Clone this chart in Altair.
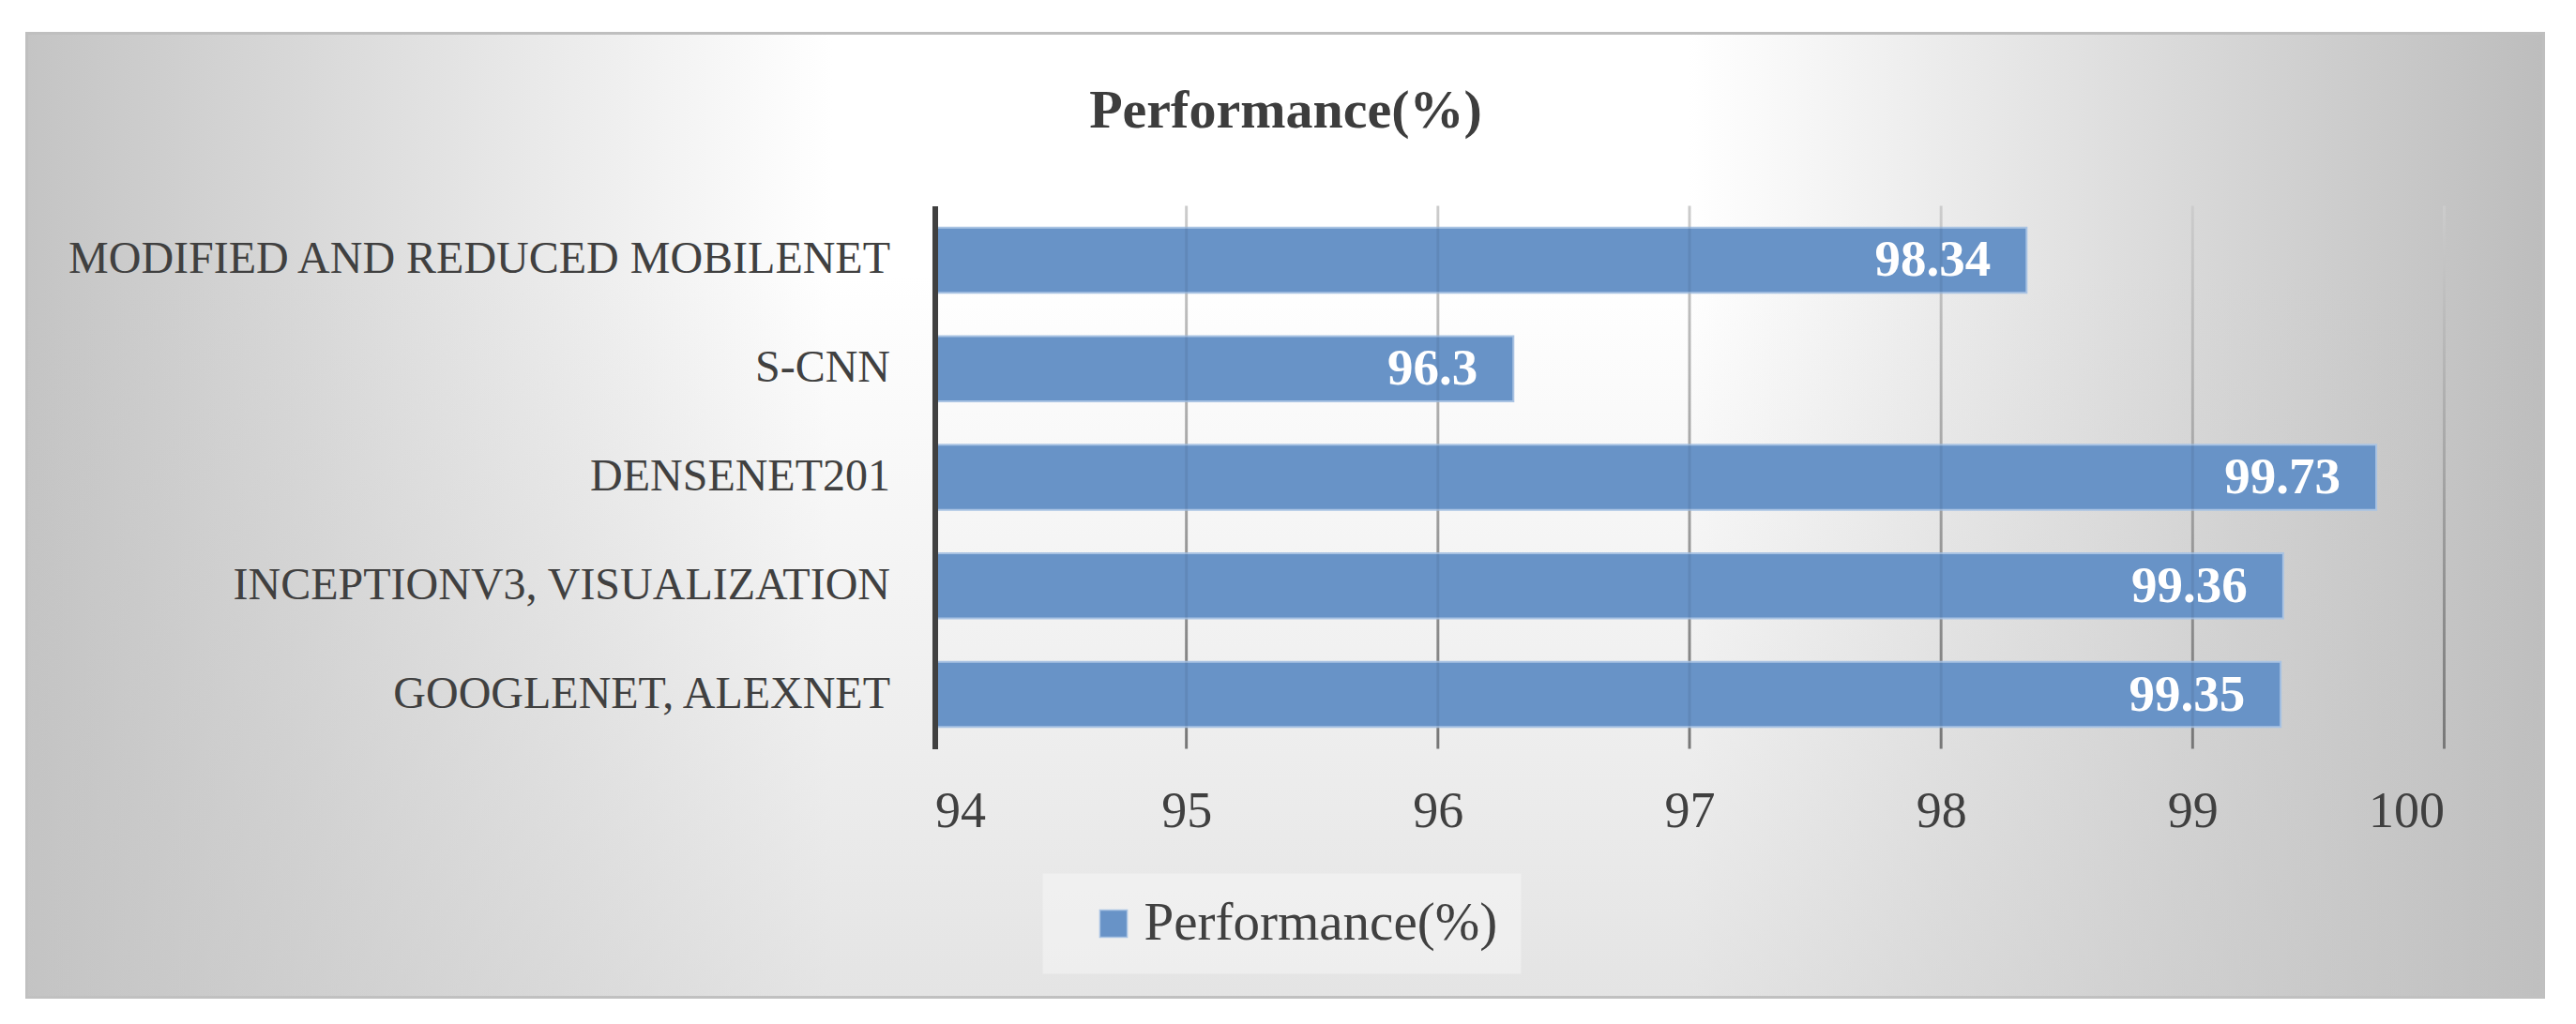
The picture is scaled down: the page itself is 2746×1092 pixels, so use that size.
import altair as alt
import pandas as pd

# ---- data ----
models = [
    "MODIFIED AND REDUCED MOBILENET",
    "S-CNN",
    "DENSENET201",
    "INCEPTIONV3, VISUALIZATION",
    "GOOGLENET, ALEXNET",
]
performance = [98.34, 96.3, 99.73, 99.36, 99.35]
axis_min, axis_max = 94, 100
tick_values = [94, 95, 96, 97, 98, 99, 100]
grid_values = [95, 96, 97, 98, 99, 100]
series_name = "Performance(%)"
chart_title = "Performance(%)"

BAR = "#6893c7"
TXT = "#404040"
FONT = "Liberation Serif"
W, H = 1609, 579

df = pd.DataFrame({"model": models, "perf": performance, "series": [series_name] * len(models)})
grid_df = pd.DataFrame({"g": grid_values})

xscale = alt.Scale(domain=[axis_min, axis_max], nice=False, zero=False)
xaxis = alt.Axis(
    values=tick_values, format="d", title=None, grid=False, domain=False, ticks=False,
    labelFont=FONT, labelFontSize=54, labelColor=TXT, labelPadding=40, zindex=1,
)

# background panel (decoration)
bg_h = alt.LinearGradient(
    gradient="linear", x1=0, x2=1, y1=0, y2=0,
    stops=[
        alt.GradientStop(offset=0, color="#c4c4c4"),
        alt.GradientStop(offset=0.32, color="#ffffff"),
        alt.GradientStop(offset=0.66, color="#ffffff"),
        alt.GradientStop(offset=1, color="#bdbdbd"),
    ],
)
bg_v = alt.LinearGradient(
    gradient="linear", x1=0, x2=0, y1=0, y2=1,
    stops=[
        alt.GradientStop(offset=0, color="rgba(195,195,195,0)"),
        alt.GradientStop(offset=0.25, color="rgba(195,195,195,0)"),
        alt.GradientStop(offset=1, color="rgba(195,195,195,0.45)"),
    ],
)
one = alt.Data(values=[{"a": 1}])
bg1 = alt.Chart(one).mark_rect(fill=bg_h, stroke="#bfbfbf", strokeWidth=3).encode(
    x=alt.value(-968), x2=alt.value(1715), y=alt.value(-184), y2=alt.value(844)
)
bg2 = alt.Chart(one).mark_rect(fill=bg_v).encode(
    x=alt.value(-968), x2=alt.value(1715), y=alt.value(-184), y2=alt.value(844)
)

grid_grad = alt.LinearGradient(
    gradient="linear", x1=0, x2=0, y1=0, y2=1,
    stops=[
        alt.GradientStop(offset=0, color="#dcdcdc"),
        alt.GradientStop(offset=0.5, color="#b0b0b0"),
        alt.GradientStop(offset=1, color="#808080"),
    ],
)
grid_base = alt.Chart(grid_df).transform_calculate(
    g1="datum.g - 0.0055", g2="datum.g + 0.0055"
)
grid = grid_base.mark_rect(fill=grid_grad).encode(
    x=alt.X("g1:Q", scale=xscale, axis=xaxis), x2="g2:Q",
    y=alt.value(0), y2=alt.value("height"),
)
grid_top = grid_base.mark_rect(fill="#000000", opacity=0.07).encode(
    x=alt.X("g1:Q", scale=xscale, axis=xaxis), x2="g2:Q",
    y=alt.value(0), y2=alt.value("height"),
)

yenc = alt.Y(
    "model:N", sort=models,
    scale=alt.Scale(paddingInner=0.4, paddingOuter=0.2),
    axis=alt.Axis(
        title=None, ticks=False, domain=True, domainColor="#404040", domainWidth=6,
        labelFont=FONT, labelFontSize=48, labelColor=TXT, labelPadding=48,
        labelLimit=0, grid=False, zindex=1,
    ),
)

bars = alt.Chart(df).mark_bar(stroke="#a9c3e3", strokeWidth=2).encode(
    x=alt.X("perf:Q", scale=xscale, axis=xaxis),
    x2=alt.datum(axis_min),
    y=yenc,
    color=alt.Color(
        "series:N",
        scale=alt.Scale(domain=[series_name], range=[BAR]),
        legend=alt.Legend(
            title=None, orient="none", legendX=115, legendY=712,
            padding=25, fillColor="rgba(255,255,255,0.35)",
            symbolType="square", symbolSize=850, symbolStrokeColor="#a9c3e3",
            symbolStrokeWidth=1.5, symbolOffset=22,
            labelFont=FONT, labelFontSize=57, labelColor=TXT, labelOffset=4,
            labelLimit=0, zindex=1,
        ),
    ),
)

labels = alt.Chart(df).mark_text(
    align="right", baseline="middle", dx=-38, font=FONT, fontWeight="bold",
    fontSize=55, color="white",
).encode(
    x=alt.X("perf:Q", scale=xscale), y=alt.Y("model:N", sort=models), text="perf:Q"
)

title = alt.Chart(alt.Data(values=[{"t": chart_title}])).mark_text(
    align="center", baseline="alphabetic", font=FONT, fontWeight="bold",
    fontSize=58, color="#3d3d3d",
).encode(x=alt.value(374), y=alt.value(-84), text="t:N")

chart = alt.layer(bg1, bg2, grid, bars, grid_top, labels, title).properties(
    width=W, height=H,
    padding={"left": 18.5, "top": 25.5, "right": 20, "bottom": 20},
    background="white",
).configure_view(stroke=None)

chart.save("out.html", embed_options={"renderer": "svg", "actions": False})
